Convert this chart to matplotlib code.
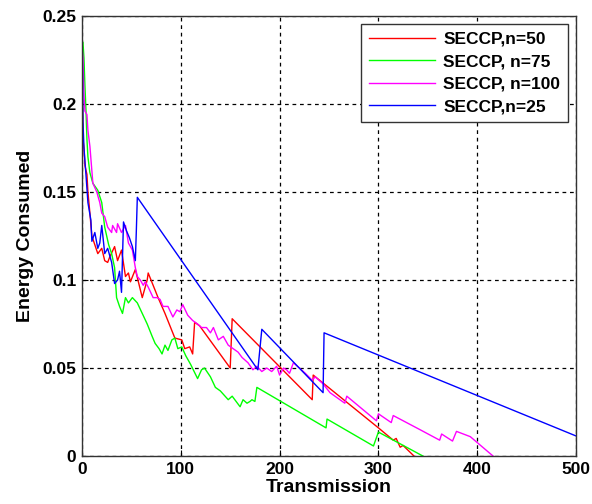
import matplotlib
matplotlib.use('Agg')
import matplotlib.pyplot as plt

plt.rcParams['font.family'] = ['Liberation Sans', 'DejaVu Sans']
plt.rcParams['font.weight'] = 'bold'

# SECCP, n=50 (red)
red_x = [0, 0.5, 1, 2, 3, 5, 6, 8, 10, 13, 16, 20, 23, 26, 28, 33, 36, 40, 44, 47, 49, 54,
         61, 66, 67, 77, 84, 94, 101, 104, 109, 112, 114, 119, 150, 152, 233, 234, 300,
         315, 318, 322, 325, 336]
red_y = [0.21, 0.205, 0.18, 0.175, 0.165, 0.16, 0.15, 0.138, 0.125, 0.12, 0.115, 0.118,
         0.111, 0.11, 0.113, 0.119, 0.111, 0.117, 0.102, 0.104, 0.099, 0.106, 0.090, 0.100,
         0.104, 0.090, 0.081, 0.067, 0.066, 0.061, 0.062, 0.058, 0.076, 0.074, 0.050, 0.078,
         0.032, 0.046, 0.016, 0.009, 0.010, 0.005, 0.006, 0.0]

# SECCP, n=75 (green)
green_x = [1, 2, 3, 4, 5, 6, 8, 11, 16, 20, 23, 27, 30, 33, 35, 38, 41, 44, 47, 51, 56, 61,
           66, 71, 74, 78, 81, 84, 87, 91, 94, 97, 101, 105, 110, 117, 121, 124, 130, 135,
           140, 148, 152, 156, 160, 163, 167, 170, 172, 175, 177, 247, 248, 295, 300, 345]
green_y = [0.235, 0.226, 0.21, 0.197, 0.18, 0.17, 0.161, 0.155, 0.151, 0.144, 0.13, 0.12,
           0.115, 0.107, 0.090, 0.085, 0.081, 0.090, 0.087, 0.090, 0.087, 0.081, 0.075,
           0.068, 0.064, 0.061, 0.058, 0.063, 0.060, 0.066, 0.067, 0.061, 0.062, 0.057,
           0.052, 0.044, 0.049, 0.050, 0.045, 0.039, 0.037, 0.032, 0.034, 0.031, 0.028,
           0.032, 0.030, 0.031, 0.032, 0.031, 0.039, 0.016, 0.021, 0.0057, 0.0136, 0.0]

# SECCP, n=100 (magenta)
mag_x = [0, 1, 2, 3, 5, 6, 8, 11, 15, 18, 20, 23, 26, 30, 31, 35, 36, 40, 44, 47, 51, 54,
         56, 59, 62, 64, 67, 72, 76, 79, 82, 87, 92, 96, 99, 102, 107, 112, 117, 121, 126,
         130, 133, 138, 143, 148, 153, 158, 162, 168, 173, 177, 182, 187, 192, 197, 200,
         204, 207, 210, 214, 218, 226, 233, 236, 244, 251, 266, 268, 298, 300, 313, 315,
         342, 362, 364, 375, 379, 393, 416]
mag_y = [0.233, 0.226, 0.205, 0.196, 0.194, 0.185, 0.176, 0.155, 0.150, 0.144, 0.138,
         0.136, 0.130, 0.127, 0.131, 0.127, 0.132, 0.127, 0.131, 0.121, 0.117, 0.107, 0.102,
         0.100, 0.097, 0.099, 0.096, 0.090, 0.090, 0.089, 0.085, 0.085, 0.079, 0.083, 0.082,
         0.086, 0.080, 0.077, 0.075, 0.073, 0.073, 0.070, 0.073, 0.066, 0.068, 0.063, 0.061,
         0.059, 0.056, 0.053, 0.049, 0.051, 0.048, 0.050, 0.048, 0.051, 0.046, 0.050, 0.049,
         0.047, 0.053, 0.051, 0.047, 0.043, 0.045, 0.041, 0.036, 0.030, 0.034, 0.020, 0.024,
         0.019, 0.023, 0.015, 0.009, 0.0125, 0.0085, 0.014, 0.011, 0.0]

# SECCP, n=25 (blue)
blue_x = [0, 0.5, 1, 2, 4, 6, 9, 10, 13, 16, 18, 20, 23, 26, 30, 33, 36, 38, 40, 42, 45, 48,
          51, 54, 55, 56, 178, 182, 244, 245, 500]
blue_y = [0.25, 0.22, 0.19, 0.175, 0.16, 0.144, 0.134, 0.122, 0.127, 0.118, 0.121, 0.131,
          0.115, 0.118, 0.110, 0.098, 0.100, 0.105, 0.093, 0.133, 0.128, 0.124, 0.119,
          0.111, 0.128, 0.147, 0.049, 0.072, 0.036, 0.070, 0.0114]

x_ticks = [0, 100, 200, 300, 400, 500]
y_ticks = [0, 0.05, 0.1, 0.15, 0.2, 0.25]
y_tick_labels = ['0', '0.05', '0.1', '0.15', '0.2', '0.25']

fig = plt.figure(figsize=(5.92, 5.04), dpi=100)
ax = fig.add_axes([0.1385, 0.0952, 0.8345, 0.8730])

ax.plot(red_x, red_y, color='#ff0000', lw=1.0, label='SECCP,n=50')
ax.plot(green_x, green_y, color='#00ff00', lw=1.0, label='SECCP, n=75')
ax.plot(mag_x, mag_y, color='#ff00ff', lw=1.0, label='SECCP, n=100')
ax.plot(blue_x, blue_y, color='#0000ff', lw=1.0, label='SECCP,n=25')

ax.set_xlim(0, 500)
ax.set_ylim(0, 0.25)
ax.set_xticks(x_ticks)
ax.set_yticks(y_ticks)
ax.set_yticklabels(y_tick_labels)
ax.tick_params(direction='in', labelsize=12.5, length=4, pad=4)
for lbl in ax.get_xticklabels() + ax.get_yticklabels():
    lbl.set_fontweight('bold')

ax.grid(True, color='black', linestyle=(0, (3, 3)), linewidth=0.9)
for s in ax.spines.values():
    s.set_color('#333333')
    s.set_linewidth(1.0)

ax.set_xlabel('Transmission', fontsize=14, fontweight='bold', labelpad=2)
ax.set_ylabel('Energy Consumed', fontsize=14, fontweight='bold', labelpad=6)

leg = ax.legend(loc='upper right', fontsize=12.5, handlelength=3.8, handletextpad=0.5,
                frameon=True, fancybox=False, edgecolor='#333333', framealpha=1,
                borderaxespad=0.45, labelspacing=0.42, borderpad=0.45)
leg.get_frame().set_linewidth(1.0)
for t in leg.get_texts():
    t.set_fontweight('bold')

fig.savefig('out.png', dpi=100)
